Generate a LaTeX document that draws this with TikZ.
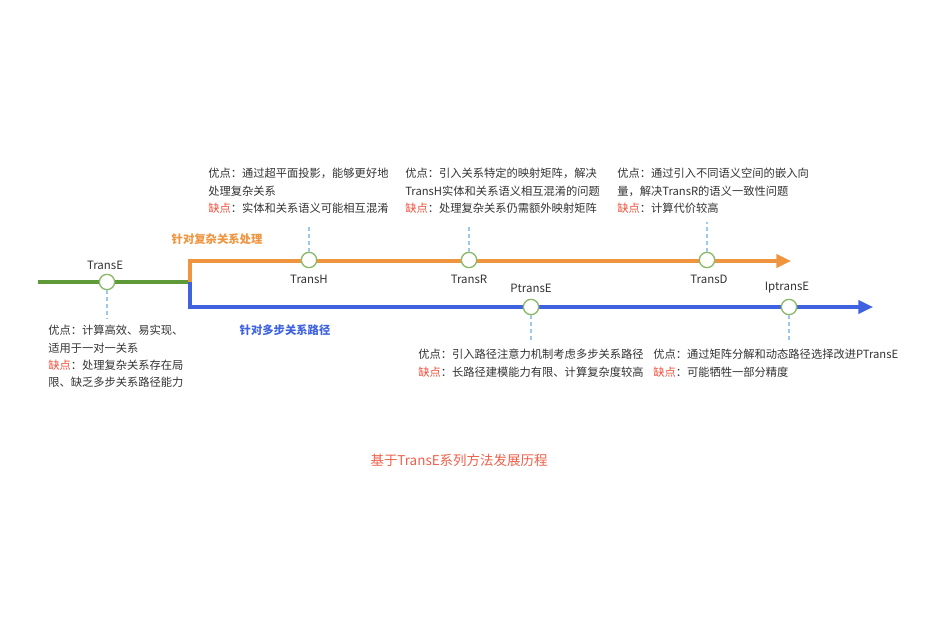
\documentclass[tikz,border=0pt]{standalone}
\usepackage{fontspec}
\setmainfont{Noto Sans CJK SC}
\usetikzlibrary{arrows.meta}
\definecolor{cgreen}{HTML}{5E9A38}
\definecolor{corange}{HTML}{F0953F}
\definecolor{cblue}{HTML}{3F63E0}
\definecolor{cring}{HTML}{8DBA6A}
\definecolor{cdash}{HTML}{9CC8F0}
\definecolor{ctext}{HTML}{333333}
\definecolor{cred}{HTML}{F0503C}
\definecolor{ctitle}{HTML}{F0604A}
\tikzset{
  dot/.style={circle,draw=cring,line width=1pt,fill=white,minimum size=11.5pt,inner sep=0},
  lbl/.style={font=\fontsize{8.6}{10}\selectfont,text=ctext,inner sep=0},
  desc/.style={font=\fontsize{8.45}{13}\selectfont,text=ctext,align=left,anchor=north west,inner sep=0},
  stem/.style={draw=cdash,line width=1pt,dash pattern=on 3pt off 2.25pt},
  branch/.style={font=\bfseries\fontsize{8.5}{10}\selectfont,inner sep=0},
}
\newcommand{\que}{\textcolor{cred}{缺点}}
\begin{document}
\begin{tikzpicture}[x=0.75pt,y=-0.75pt]
\useasboundingbox[fill=white] (0,0) rectangle (934,620);
% main lines
\coordinate (s) at (38,282);
\coordinate (j) at (190,282);
\coordinate (oc) at (190,261);
\coordinate (oe) at (791,261);
\coordinate (bc) at (190,307);
\coordinate (be) at (873,307);
\draw[cgreen,line width=2.3pt] (s) -- (j);
\draw[corange,line width=2.3pt,-{Triangle[length=11pt,width=10pt]}] (j) -- (oc) -- (oe);
\draw[cblue,line width=2.3pt,-{Triangle[length=11pt,width=10pt]}] (j) -- (bc) -- (be);
% branch labels
\node[branch,text=corange] (ol) at (217,239) {针对复杂关系处理};
\node[branch,text=cblue] (bl) at (285,330) {针对多步关系路径};
% dots
\node[dot] (e) at (107,282) {};
\node[dot] (h) at (309,260) {};
\node[dot] (r) at (469,260) {};
\node[dot] (d) at (707,260) {};
\node[dot] (p) at (531,307) {};
\node[dot] (i) at (789,307) {};
% labels
\node[lbl] (le) at (105,265) {TransE};
\node[lbl] (lh) at (309,279) {TransH};
\node[lbl] (lr) at (469,279) {TransR};
\node[lbl] (ld) at (709,279) {TransD};
\node[lbl] (lp) at (531,288) {PtransE};
\node[lbl] (li) at (787,288) {IptransE};
% stems
\coordinate (te) at (107,319);
\coordinate (th) at (309,225);
\coordinate (tr) at (469,225);
\coordinate (td) at (707,222);
\coordinate (tp) at (531,343);
\coordinate (ti) at (789,342);
\draw[stem] (e) -- (te);
\draw[stem] (h) -- (th);
\draw[stem] (r) -- (tr);
\draw[stem] (d) -- (td);
\draw[stem] (p) -- (tp);
\draw[stem] (i) -- (ti);
% descriptions
\node[desc] (de) at (48,325) {优点：计算高效、易实现、\\适用于一对一关系\\\que：处理复杂关系存在局\\限、缺乏多步关系路径能力};
\node[desc] (dh) at (208,168) {优点：通过超平面投影，能够更好地\\处理复杂关系\\\que：实体和关系语义可能相互混淆};
\node[desc] (dr) at (405,168) {优点：引入关系特定的映射矩阵，解决\\TransH实体和关系语义相互混淆的问题\\\que：处理复杂关系仍需额外映射矩阵};
\node[desc] (dd) at (617,168) {优点：通过引入不同语义空间的嵌入向\\量，解决TransR的语义一致性问题\\\que：计算代价较高};
\node[desc] (dp) at (418,349) {优点：引入路径注意力机制考虑多步关系路径\\\que：长路径建模能力有限、计算复杂度较高};
\node[desc] (di) at (653,349) {优点：通过矩阵分解和动态路径选择改进PTransE\\\que：可能牺牲一部分精度};
% title
\node[font=\fontsize{10.1}{12}\selectfont,text=ctitle,inner sep=0] (title) at (459,460) {基于TransE系列方法发展历程};
\end{tikzpicture}
\end{document}
